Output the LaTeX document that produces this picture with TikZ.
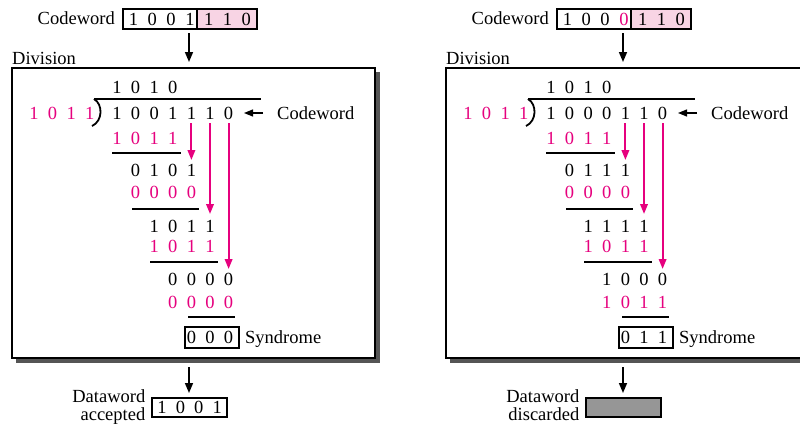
\documentclass[tikz,border=0pt]{standalone}
\usepackage{fontspec}
\setmainfont{Liberation Serif}
\usetikzlibrary{arrows.meta}
\definecolor{mag}{RGB}{230,0,126}
\definecolor{lpink}{RGB}{248,212,228}
\definecolor{shadowgray}{RGB}{85,85,85}
\definecolor{dgray}{RGB}{150,150,150}
\tikzset{
  txt/.style={inner sep=0pt, text height=12pt, text depth=0pt, font=\fontsize{18.5}{18.5}\selectfont},
  dig/.style={txt},
  arr/.style={line width=1.6pt, -{Triangle[length=10pt,width=8pt]}},
  marr/.style={draw=mag, line width=2pt, -{Triangle[length=10pt,width=7.5pt]}, fill=mag},
  rule/.style={line width=1.2pt},
  bx/.style={draw, line width=1.1pt, inner sep=0pt},
}
% row of digits: name, y, start column, colour, digits
\newcommand\drow[5]{%
  \foreach \d [count=\i] in {#5} {%
    \node[dig, text=#4] (#1-\i) at ({117+(#3+\i-2)*18.6},#2) {\d};}}
\begin{document}
\begin{tikzpicture}[x=1pt,y=-1pt]
\clip (0,0) rectangle (800,424);
\fill[white] (0,0) rectangle (800,424);
% ================= LEFT PANEL =================
\begin{scope}
  \node[txt, anchor=east] (Lcwt) at (115,18.5) {Codeword};
  \fill[lpink] (197,9) rectangle (257,29);
  \node[bx, minimum width=134pt, minimum height=20pt] (Lcw) at (190,19) {};
  \draw[line width=1.1pt] (197,9) -- (197,29);
  \foreach \d [count=\i] in {1,0,0,1,1,1,0} {\node[dig] (Lcwd-\i) at ({133.5+(\i-1)*18.8},19) {\d};}
  \coordinate (La1) at (189,33);
  \coordinate (La2) at (189,62);
  \draw[arr] (La1) -- (La2);
  \node[txt, anchor=west] (Ldiv) at (12,58) {Division};
  \fill[shadowgray] (16,72) rectangle (380,363);
  \node[bx, fill=white, minimum width=363pt, minimum height=290pt] (Lbox) at (193.5,213) {};
  \drow{Lq}{87}{1}{black}{1,0,1,0}
  \draw[rule] (94,99) -- (261,99);
  \draw[line width=1.8pt] (94,99) .. controls (103,104) and (103,121) .. (92,126);
  \foreach \d [count=\i] in {1,0,1,1} {\node[dig, text=mag] (Ldv-\i) at ({34+(\i-1)*18.6},113) {\d};}
  \drow{Ldd}{113}{1}{black}{1,0,0,1,1,1,0}
  \node[txt, anchor=west] (Lcwl) at (277,113) {Codeword};
  \coordinate (Lcwa) at (263,113);
  \draw[line width=1.2pt, -{Triangle[length=9pt,width=7pt]}] (Lcwa) -- (244,113);
  \drow{Lr1}{138}{1}{mag}{1,0,1,1}
  \draw[rule] (112,153) -- (181,153);
  \drow{Lr2}{170}{2}{black}{0,1,0,1}
  \drow{Lr3}{192}{2}{mag}{0,0,0,0}
  \draw[rule] (132,209) -- (199,209);
  \drow{Lr4}{226}{3}{black}{1,0,1,1}
  \drow{Lr5}{246}{3}{mag}{1,0,1,1}
  \draw[rule] (150,262) -- (218,262);
  \drow{Lr6}{279}{4}{black}{0,0,0,0}
  \drow{Lr7}{302}{4}{mag}{0,0,0,0}
  \draw[rule] (188,317) -- (235,317);
  \node[bx, minimum width=54pt, minimum height=21pt] (Lsb) at (212,337.5) {};
  \drow{Lsy}{337.5}{5}{black}{0,0,0}
  \node[txt, anchor=west] (Lsyl) at (245,337.5) {Syndrome};
  \coordinate (Lm1) at (Ldd-5 |- 0,123);
  \coordinate (Lm2) at (Ldd-6 |- 0,123);
  \coordinate (Lm3) at (Ldd-7 |- 0,123);
  \draw[marr] (Lm1) -- (Ldd-5 |- 0,160);
  \draw[marr] (Lm2) -- (Ldd-6 |- 0,214);
  \draw[marr] (Lm3) -- (Ldd-7 |- 0,269);
  \coordinate (Lb1) at (189,367);
  \coordinate (Lb2) at (189,393);
  \draw[arr] (Lb1) -- (Lb2);
  \node[bx, minimum width=75pt, minimum height=19pt] (Ldw) at (189.5,407.5) {};
  \foreach \d [count=\i] in {1,0,0,1} {\node[dig] (Ldwd-\i) at ({162+(\i-1)*18.4},407.5) {\d};}
  \node[txt, anchor=east] (Ldwl1) at (145.5,396.5) {Dataword};
  \node[txt, anchor=east] (Ldwl2) at (145.5,414.5) {accepted};
\end{scope}
% ================= RIGHT PANEL =================
\begin{scope}[xshift=434pt]
  \node[txt, anchor=east] (Rcwt) at (115,18.5) {Codeword};
  \fill[lpink] (197,9) rectangle (257,29);
  \node[bx, minimum width=134pt, minimum height=20pt] (Rcw) at (190,19) {};
  \draw[line width=1.1pt] (197,9) -- (197,29);
  \foreach \d/\c [count=\i] in {1/black,0/black,0/black,0/mag,1/black,1/black,0/black} {\node[dig, text=\c] (Rcwd-\i) at ({133.5+(\i-1)*18.8},19) {\d};}
  \coordinate (Ra1) at (189,33);
  \coordinate (Ra2) at (189,62);
  \draw[arr] (Ra1) -- (Ra2);
  \node[txt, anchor=west] (Rdiv) at (12,58) {Division};
  \fill[shadowgray] (16,72) rectangle (380,363);
  \node[bx, fill=white, minimum width=363pt, minimum height=290pt] (Rbox) at (193.5,213) {};
  \drow{Rq}{87}{1}{black}{1,0,1,0}
  \draw[rule] (94,99) -- (261,99);
  \draw[line width=1.8pt] (94,99) .. controls (103,104) and (103,121) .. (92,126);
  \foreach \d [count=\i] in {1,0,1,1} {\node[dig, text=mag] (Rdv-\i) at ({34+(\i-1)*18.6},113) {\d};}
  \drow{Rdd}{113}{1}{black}{1,0,0,0,1,1,0}
  \node[txt, anchor=west] (Rcwl) at (277,113) {Codeword};
  \coordinate (Rcwa) at (263,113);
  \draw[line width=1.2pt, -{Triangle[length=9pt,width=7pt]}] (Rcwa) -- (244,113);
  \drow{Rr1}{138}{1}{mag}{1,0,1,1}
  \draw[rule] (112,153) -- (181,153);
  \drow{Rr2}{170}{2}{black}{0,1,1,1}
  \drow{Rr3}{192}{2}{mag}{0,0,0,0}
  \draw[rule] (132,209) -- (199,209);
  \drow{Rr4}{226}{3}{black}{1,1,1,1}
  \drow{Rr5}{246}{3}{mag}{1,0,1,1}
  \draw[rule] (150,262) -- (218,262);
  \drow{Rr6}{279}{4}{black}{1,0,0,0}
  \drow{Rr7}{302}{4}{mag}{1,0,1,1}
  \draw[rule] (188,317) -- (235,317);
  \node[bx, minimum width=54pt, minimum height=21pt] (Rsb) at (212,337.5) {};
  \drow{Rsy}{337.5}{5}{black}{0,1,1}
  \node[txt, anchor=west] (Rsyl) at (245,337.5) {Syndrome};
  \coordinate (Rm1) at (Rdd-5 |- 0,123);
  \coordinate (Rm2) at (Rdd-6 |- 0,123);
  \coordinate (Rm3) at (Rdd-7 |- 0,123);
  \draw[marr] (Rm1) -- (Rdd-5 |- 0,160);
  \draw[marr] (Rm2) -- (Rdd-6 |- 0,214);
  \draw[marr] (Rm3) -- (Rdd-7 |- 0,269);
  \coordinate (Rb1) at (189,367);
  \coordinate (Rb2) at (189,393);
  \draw[arr] (Rb1) -- (Rb2);
  \node[bx, fill=dgray, minimum width=75pt, minimum height=19pt] (Rdw) at (189.5,407.5) {};
  \node[txt, anchor=east] (Rdwl1) at (145.5,396.5) {Dataword};
  \node[txt, anchor=east] (Rdwl2) at (145.5,414.5) {discarded};
\end{scope}
\end{tikzpicture}
\end{document}
